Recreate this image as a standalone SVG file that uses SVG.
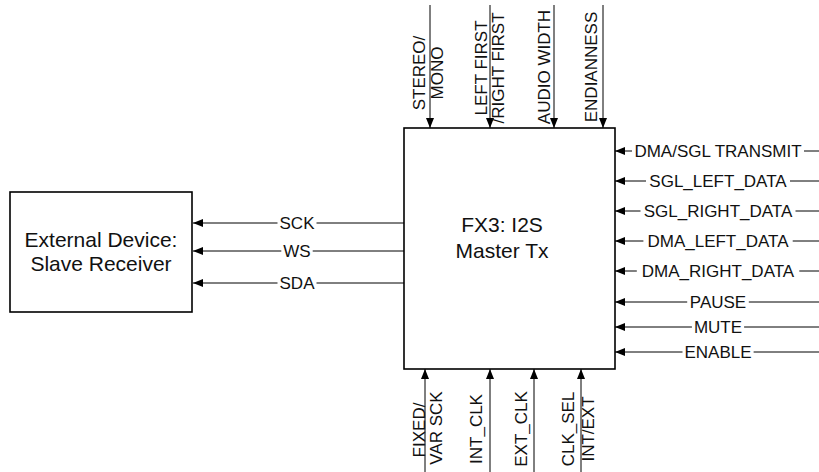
<svg xmlns="http://www.w3.org/2000/svg" width="819" height="472" viewBox="0 0 819 472">
<style>
.box{fill:#fff;stroke:#000;stroke-width:1.6}
.big{font-family:"Liberation Sans",Arial,sans-serif;font-size:21px;fill:#111;text-anchor:middle}
.lbl{font-family:"Liberation Sans",Arial,sans-serif;font-size:17px;fill:#111;text-anchor:middle}
.bg{fill:#fff;stroke:none}
.ln{stroke:#000;stroke-width:1;fill:none;marker-end:url(#ah)}
</style>
<defs>
<marker id="ah" viewBox="0 0 10 8" refX="10" refY="4" markerWidth="10" markerHeight="8" markerUnits="userSpaceOnUse" orient="auto">
<path d="M0,0 L10,4 L0,8 Z" fill="#000"/>
</marker>
</defs>
<g id="connectors">
<line class="ln" x1="404" y1="223" x2="193" y2="223"/>
<line class="ln" x1="404" y1="251" x2="193" y2="251"/>
<line class="ln" x1="404" y1="283" x2="193" y2="283"/>
<line class="ln" x1="430" y1="5" x2="430" y2="128"/>
<line class="ln" x1="490" y1="5" x2="490" y2="128"/>
<line class="ln" x1="554" y1="5" x2="554" y2="128"/>
<line class="ln" x1="603" y1="5" x2="603" y2="128"/>
<line class="ln" x1="819" y1="151" x2="615" y2="151"/>
<line class="ln" x1="819" y1="181" x2="615" y2="181"/>
<line class="ln" x1="819" y1="211" x2="615" y2="211"/>
<line class="ln" x1="819" y1="241" x2="615" y2="241"/>
<line class="ln" x1="819" y1="271" x2="615" y2="271"/>
<line class="ln" x1="819" y1="302" x2="615" y2="302"/>
<line class="ln" x1="819" y1="327" x2="615" y2="327"/>
<line class="ln" x1="819" y1="352" x2="615" y2="352"/>
<line class="ln" x1="425" y1="472" x2="425" y2="369"/>
<line class="ln" x1="490" y1="472" x2="490" y2="369"/>
<line class="ln" x1="534" y1="472" x2="534" y2="369"/>
<line class="ln" x1="581" y1="472" x2="581" y2="369"/>
<rect class="bg" x="277.5" y="216" width="39" height="14"/>
<rect class="bg" x="281.3" y="244" width="31.4" height="14"/>
<rect class="bg" x="277.5" y="276" width="39" height="14"/>
<rect class="bg" x="632" y="144" width="172" height="14"/>
<rect class="bg" x="646" y="174" width="144" height="14"/>
<rect class="bg" x="640.5" y="204" width="155" height="14"/>
<rect class="bg" x="643.4" y="234" width="149.3" height="14"/>
<rect class="bg" x="636.8" y="264" width="162.5" height="14"/>
<rect class="bg" x="687.2" y="295" width="61.6" height="14"/>
<rect class="bg" x="691.9" y="320" width="52.2" height="14"/>
<rect class="bg" x="682.5" y="345" width="71.1" height="14"/>
<text class="lbl" x="297" y="229">SCK</text>
<text class="lbl" x="297" y="257">WS</text>
<text class="lbl" x="297" y="289">SDA</text>
<text class="lbl" x="718" y="157">DMA/SGL TRANSMIT</text>
<text class="lbl" x="718" y="187">SGL_LEFT_DATA</text>
<text class="lbl" x="718" y="217">SGL_RIGHT_DATA</text>
<text class="lbl" x="718" y="247">DMA_LEFT_DATA</text>
<text class="lbl" x="718" y="277">DMA_RIGHT_DATA</text>
<text class="lbl" x="718" y="308">PAUSE</text>
<text class="lbl" x="718" y="333">MUTE</text>
<text class="lbl" x="718" y="358">ENABLE</text>
<text class="lbl" transform="translate(425,73) rotate(-90)">STEREO/</text>
<text class="lbl" transform="translate(443,73) rotate(-90)">MONO</text>
<text class="lbl" transform="translate(487,68) rotate(-90)">LEFT FIRST</text>
<text class="lbl" transform="translate(504,68) rotate(-90)">/RIGHT FIRST</text>
<text class="lbl" transform="translate(550,67) rotate(-90)">AUDIO WIDTH</text>
<text class="lbl" transform="translate(597,67) rotate(-90)">ENDIANNESS</text>
<text class="lbl" transform="translate(425,430) rotate(-90)">FIXED/</text>
<text class="lbl" transform="translate(442,428) rotate(-90)">VAR SCK</text>
<text class="lbl" transform="translate(482,429) rotate(-90)">INT_CLK</text>
<text class="lbl" transform="translate(527,429) rotate(-90)">EXT_CLK</text>
<text class="lbl" transform="translate(574,429) rotate(-90)">CLK_SEL</text>
<text class="lbl" transform="translate(594,429) rotate(-90)">INT/EXT</text>
</g>
<g id="external">
<rect class="box" x="10" y="192" width="182" height="120"/>
<text class="big" x="101" y="247">External Device:</text>
<text class="big" x="101" y="271">Slave Receiver</text>
</g>
<g id="fx3">
<rect class="box" x="404" y="128" width="211" height="241"/>
<text class="big" x="502" y="232">FX3: I2S</text>
<text class="big" x="502" y="258">Master Tx</text>
</g>
</svg>
